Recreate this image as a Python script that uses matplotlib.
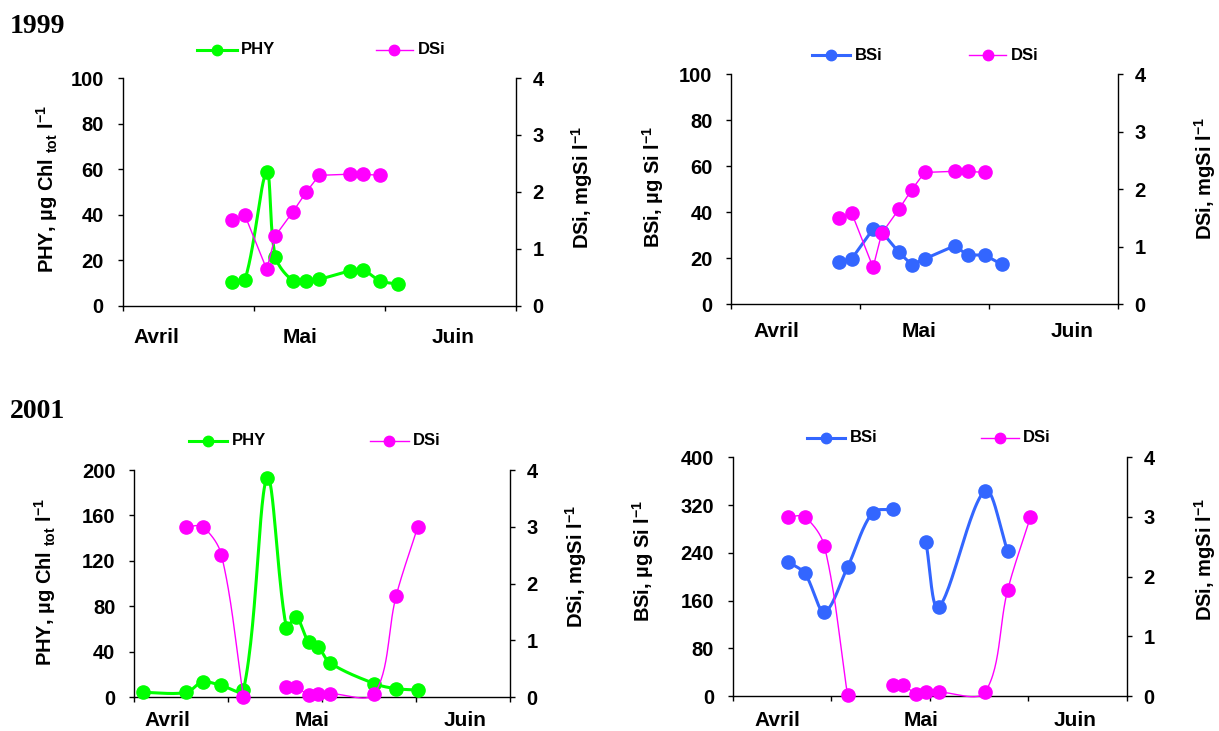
import numpy as np
import matplotlib
matplotlib.use("Agg")
import matplotlib.pyplot as plt
from matplotlib.lines import Line2D

plt.rcParams.update({
    "font.family": ["Liberation Sans", "DejaVu Sans"],
    "font.weight": "bold",
    "mathtext.fontset": "custom",
    "mathtext.rm": "Liberation Sans:bold",
    "mathtext.bf": "Liberation Sans:bold",
    "mathtext.it": "Liberation Sans:bold",
    "mathtext.sf": "Liberation Sans:bold",
    "axes.linewidth": 1.0,
})

nan = np.nan

# jours comptés depuis le début de l'axe (fin mars)
jours_1999 = [25, 28, 33, 35, 39, 42, 45, 52, 55, 59, 63]
phy_1999 = [10.3, 11.3, 58.7, 21.6, 10.9, 10.9, 11.6, 15.2, 15.7, 10.9, 9.5]
bsi_1999 = [18.5, 19.7, 32.7, 31.5, 22.6, 17.2, 19.7, 25.4, 21.4, 21.4, 17.3]
dsi_1999 = [1.50, 1.59, 0.64, 1.23, 1.65, 1.99, 2.29, 2.31, 2.31, 2.29, nan]

jours_2001 = [2.1, 12.5, 16.4, 20.9, 26.2, 31.9, 36.5, 38.8, 41.8, 44.1, 47.0, 57.6, 62.8, 68.0]
phy_2001 = [4.3, 4.3, 13.6, 10.4, 6.4, 193.3, 61.3, 71.0, 49.0, 44.5, 30.2, 12.0, 7.6, 6.4]
bsi_2001 = [nan, 225.0, 205.6, 141.3, 216.2, 307.3, 312.8, nan, nan, 257.5, 148.6, 344.1, 243.0, nan]
dsi_2001 = [nan, 3.0, 3.0, 2.51, 0.01, nan, 0.19, 0.19, 0.04, 0.065, 0.065, 0.065, 1.78, 3.0]

MOIS = ["Avril", "Mai", "Juin"]

VERT = "#00ff00"
BLEU = "#3366ff"
ROSE = "#ff00ff"

XMAX = 90
W, H = 1219, 731
fig = plt.figure(figsize=(W / 100, H / 100), dpi=100)
fig.patch.set_facecolor("white")


def rect_px(left, top, right, bottom):
    return [left / W, 1 - bottom / H, (right - left) / W, (bottom - top) / H]


def lissage(x, y, sx, sy, n=30):
    """Courbe lissée type tableur : Bézier dont les tangentes sont pondérées
    par la longueur des segments (calculée en pixels), coupée aux trous."""
    x = np.asarray(x, float) * sx
    y = np.asarray(y, float) * sy
    ok = ~np.isnan(y)
    xs, ys = [], []
    i = 0
    while i < len(y):
        if not ok[i]:
            i += 1
            continue
        j = i
        while j < len(y) and ok[j]:
            j += 1
        P = np.column_stack([x[i:j], y[i:j]])
        ext = np.vstack([P[0], P, P[-1]])
        t = np.linspace(0, 1, n)[1:, None]
        parts = [P[:1]]
        for k in range(len(P) - 1):
            p0, p1, p2, p3 = ext[k], ext[k + 1], ext[k + 2], ext[k + 3]
            d01 = np.hypot(*(p1 - p0))
            d12 = np.hypot(*(p2 - p1))
            d23 = np.hypot(*(p3 - p2))
            c1 = p1 + (p2 - p0) * d12 / (3 * max(d01 + d12, 1e-9))
            c2 = p2 - (p3 - p1) * d12 / (3 * max(d12 + d23, 1e-9))
            parts.append((1 - t) ** 3 * p1 + 3 * (1 - t) ** 2 * t * c1
                         + 3 * (1 - t) * t ** 2 * c2 + t ** 3 * p2)
        seg = np.vstack(parts)
        xs += list(seg[:, 0] / sx) + [nan]
        ys += list(seg[:, 1] / sy) + [nan]
        i = j
    return xs, ys


def trace(ax, x, y, color, lw, lisse, ymax):
    if lisse:
        box = ax.get_position()
        cx, cy = lissage(x, y, box.width * W / XMAX, box.height * H / ymax)
    else:
        cx, cy = x, y
    ax.plot(cx, cy, color=color, lw=lw, clip_on=False, zorder=2,
            solid_joinstyle="round", solid_capstyle="round")
    ax.plot(x, y, ls="none", marker="o", ms=9.5, mfc=color, mec=color,
            clip_on=False, zorder=3)


def panneau(rect, jours, gauche, col_g, lisse_g, dsi, lisse_d,
            ymax, ypas, n_int, mois_x, mois_pad):
    ax = fig.add_axes(rect)
    ax2 = ax.twinx()
    trace(ax, jours, gauche, col_g, 2.2, lisse_g, ymax)
    trace(ax2, jours, dsi, ROSE, 1.0, lisse_d, 4)

    ax.set_xlim(0, XMAX)
    ax.set_ylim(0, ymax)
    ax.set_yticks(np.arange(0, ymax + 1, ypas))
    ax.set_xticks(np.linspace(0, XMAX, n_int + 1))
    ax.set_xticklabels([])
    ax.set_xticks(mois_x, minor=True)
    ax.set_xticklabels(MOIS, minor=True, fontsize=15)
    ax.tick_params(axis="x", which="minor", length=0, pad=mois_pad)
    ax.tick_params(axis="x", which="major", direction="out", length=3.6, width=1)
    ax.tick_params(axis="y", direction="out", length=3.6, width=1,
                   labelsize=14.5, pad=10)
    for s in ("top", "right"):
        ax.spines[s].set_visible(False)

    ax2.set_ylim(0, 4)
    ax2.set_yticks([0, 1, 2, 3, 4])
    ax2.tick_params(axis="y", direction="out", length=3.6, width=1,
                    labelsize=14.5, pad=8.6)
    for s in ("top", "left", "bottom"):
        ax2.spines[s].set_visible(False)
    return ax, ax2


def legende(x0, x1, y, color, lw, label):
    yf = 1 - y / H
    fig.add_artist(Line2D([x0 / W, x1 / W], [yf, yf], color=color, lw=lw,
                          transform=fig.transFigure))
    fig.add_artist(Line2D([(x0 + x1) / 2 / W], [yf], marker="o", ms=7.5,
                          color=color, transform=fig.transFigure))
    fig.text((x1 + 4.5) / W, yf, label, fontsize=12, va="center", ha="left")


def titre_axe(x, y, label):
    fig.text(x / W, 1 - y / H, label, rotation=90, ha="center", va="center",
             fontsize=14.5)


LAB_PHY = r"PHY, µg Chl $_{\mathrm{tot}}$ l$^{\mathrm{-1}}$"
LAB_BSI = r"BSi, µg Si l$^{\mathrm{-1}}$"
LAB_DSI = r"DSi, mgSi l$^{\mathrm{-1}}$"

# 1999
panneau(rect_px(122.6, 78, 515.6, 305.7), jours_1999, phy_1999, VERT, True,
        dsi_1999, False, 100, 20, 3, [7.8, 40.6, 75.7], 16.3)
panneau(rect_px(731.4, 74, 1117.8, 304.3), jours_1999, bsi_1999, BLEU, False,
        dsi_1999, False, 100, 20, 3, [10.4, 43.8, 79.4], 12.5)

# 2001
panneau(rect_px(134.2, 470, 509.5, 697.3), jours_2001, phy_2001, VERT, True,
        dsi_2001, True, 200, 40, 4, [8.0, 42.6, 79.3], 9.9)
panneau(rect_px(733, 457.3, 1126.7, 696), jours_2001, bsi_2001, BLEU, True,
        dsi_2001, True, 400, 80, 4, [10.1, 43.0, 78.2], 10.8)

titre_axe(47, 189, LAB_PHY)
titre_axe(581.7, 187, LAB_DSI)
titre_axe(652.8, 187, LAB_BSI)
titre_axe(1205, 178, LAB_DSI)
titre_axe(44.7, 582, LAB_PHY)
titre_axe(576, 566, LAB_DSI)
titre_axe(643, 561, LAB_BSI)
titre_axe(1205, 559, LAB_DSI)

legende(197.3, 236.7, 50, VERT, 2.2, "PHY")
legende(375.5, 413.3, 50, ROSE, 1.0, "DSi")
legende(812, 850, 55, BLEU, 2.2, "BSi")
legende(969, 1006, 55, ROSE, 1.0, "DSi")
legende(189, 227, 440.7, VERT, 2.2, "PHY")
legende(370, 408.5, 440.7, ROSE, 1.0, "DSi")
legende(806.5, 845.4, 437.7, BLEU, 2.2, "BSi")
legende(980.8, 1018.6, 437.7, ROSE, 1.0, "DSi")

for an, y in (("1999", 33.3), ("2001", 418.3)):
    fig.text(9.7 / W, 1 - y / H, an, family="Liberation Serif", weight="bold",
             fontsize=20, va="baseline", ha="left")

fig.savefig("out.png", dpi=100, facecolor="white")
